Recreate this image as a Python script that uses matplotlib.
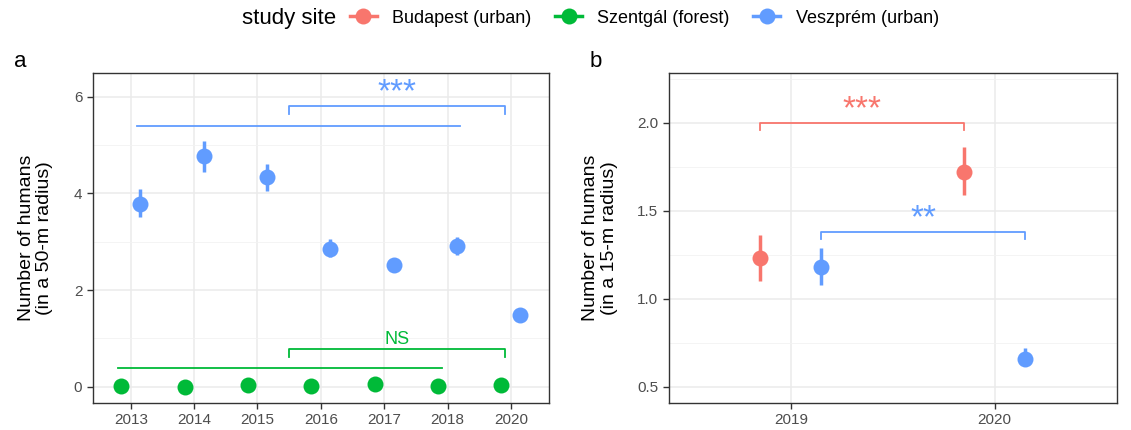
import matplotlib.pyplot as plt
from matplotlib.lines import Line2D
from matplotlib.offsetbox import HPacker
import numpy as np

plt.rcParams['font.family'] = ['Liberation Sans', 'DejaVu Sans']

RED = '#F8766D'
GREEN = '#00BA38'
BLUE = '#619CFF'

# panel a: 50-m radius, 2013-2020
years_a = ['2013', '2014', '2015', '2016', '2017', '2018', '2020']
forest_mean = [0.01, -0.01, 0.03, 0.01, 0.05, 0.01, 0.03]
forest_lo = [0.0, -0.02, 0.02, 0.0, 0.03, 0.0, 0.02]
forest_hi = [0.02, 0.0, 0.05, 0.02, 0.07, 0.02, 0.04]
vesz_a_mean = [3.79, 4.77, 4.34, 2.86, 2.52, 2.91, 1.48]
vesz_a_lo = [3.51, 4.45, 4.05, 2.68, 2.42, 2.72, 1.43]
vesz_a_hi = [4.09, 5.09, 4.62, 3.05, 2.62, 3.10, 1.53]

# panel b: 15-m radius, 2019-2020
years_b = ['2019', '2020']
buda_mean = [1.23, 1.72]
buda_lo = [1.10, 1.59]
buda_hi = [1.36, 1.86]
vesz_b_mean = [1.18, 0.66]
vesz_b_lo = [1.077, 0.62]
vesz_b_hi = [1.29, 0.72]

dodge = 0.15

fig = plt.figure(figsize=(11.31, 4.30), dpi=100)
ax1 = fig.add_axes([0.082, 0.0635, 0.4034, 0.7675])
ax2 = fig.add_axes([0.5912, 0.0635, 0.3964, 0.766])


def style(ax):
    ax.set_axisbelow(True)
    for s in ax.spines.values():
        s.set_color('#333333')
        s.set_linewidth(1.0)
    ax.tick_params(axis='both', colors='#333333', labelcolor='#4D4D4D',
                   labelsize=11, length=4, width=1)
    ax.grid(which='major', color='#EBEBEB', linewidth=1.1)
    ax.grid(which='minor', axis='y', color='#F2F2F2', linewidth=0.6)
    ax.tick_params(which='minor', length=0)


def pointrange(ax, x, m, lo, hi, color):
    x = np.asarray(x)
    for xi, l, h in zip(x, lo, hi):
        ax.plot([xi, xi], [l, h], color=color, lw=2.5, solid_capstyle='butt', zorder=3)
    ax.plot(x, m, 'o', color=color, ms=11.5, mec='none', zorder=4)


def bracket(ax, x0, x1, y, tip, color, label, ly, lx, fs):
    ax.plot([x0, x0, x1, x1], [y - tip, y, y, y - tip], color=color, lw=1.3)
    ax.text(lx, ly, label, color=color, fontsize=fs, ha='center', va='center')


# ---- panel a ----
xa = np.arange(1, len(years_a) + 1)
style(ax1)
pointrange(ax1, xa - dodge, forest_mean, forest_lo, forest_hi, GREEN)
pointrange(ax1, xa + dodge, vesz_a_mean, vesz_a_lo, vesz_a_hi, BLUE)
ax1.plot([1.1, 6.2], [5.40, 5.40], color=BLUE, lw=1.3)
bracket(ax1, 3.5, 6.91, 5.81, 0.17, BLUE, '***', 6.09, 5.2, 24)
ax1.plot([0.8, 5.91], [0.39, 0.39], color=GREEN, lw=1.3)
bracket(ax1, 3.5, 6.91, 0.79, 0.17, GREEN, 'NS', 0.98, 5.2, 13)
ax1.set_xticks(xa)
ax1.set_xticklabels(years_a)
ax1.set_xlim(0.4, 7.6)
ax1.set_yticks([0, 2, 4, 6])
ax1.set_yticks([1, 3, 5], minor=True)
ax1.set_ylim(-0.33, 6.5)
ax1.set_ylabel('Number of humans\n(in a 50-m radius)', fontsize=14, labelpad=15,
               linespacing=1.1)
fig.text(0.012, 0.845, 'a', fontsize=16)

# ---- panel b ----
xb = np.arange(1, len(years_b) + 1)
style(ax2)
pointrange(ax2, xb - dodge, buda_mean, buda_lo, buda_hi, RED)
pointrange(ax2, xb + dodge, vesz_b_mean, vesz_b_lo, vesz_b_hi, BLUE)
bracket(ax2, 0.85, 1.85, 2.0, 0.04, RED, '***', 2.075, 1.35, 24)
bracket(ax2, 1.15, 2.15, 1.38, 0.04, BLUE, '**', 1.456, 1.65, 24)
ax2.set_xticks(xb)
ax2.set_xticklabels(years_b)
ax2.set_xlim(0.4, 2.6)
ax2.set_yticks([0.5, 1.0, 1.5, 2.0])
ax2.set_yticklabels(['0.5', '1.0', '1.5', '2.0'])
ax2.set_yticks([0.75, 1.25, 1.75, 2.25], minor=True)
ax2.set_ylim(0.41, 2.28)
ax2.set_ylabel('Number of humans\n(in a 15-m radius)', fontsize=14, labelpad=14,
               linespacing=1.1)
fig.text(0.521, 0.845, 'b', fontsize=16)

# ---- legend ----
handles = [Line2D([0], [0], color=c, lw=2.5, marker='o', ms=11.5, mec='none')
           for c in (RED, GREEN, BLUE)]
leg = fig.legend(handles, ['Budapest (urban)', 'Szentgál (forest)', 'Veszprém (urban)'],
                 title='study site', loc='center', bbox_to_anchor=(0.522, 0.958),
                 ncol=4, frameon=False, fontsize=13, title_fontsize=16,
                 handlelength=1.5, columnspacing=1.3, handletextpad=0.85)
# put the title inline to the left, as ggplot does
box = leg._legend_box
box.__class__ = HPacker
box.align = 'center'
box.sep = 10

fig.savefig('out.png', dpi=100)
